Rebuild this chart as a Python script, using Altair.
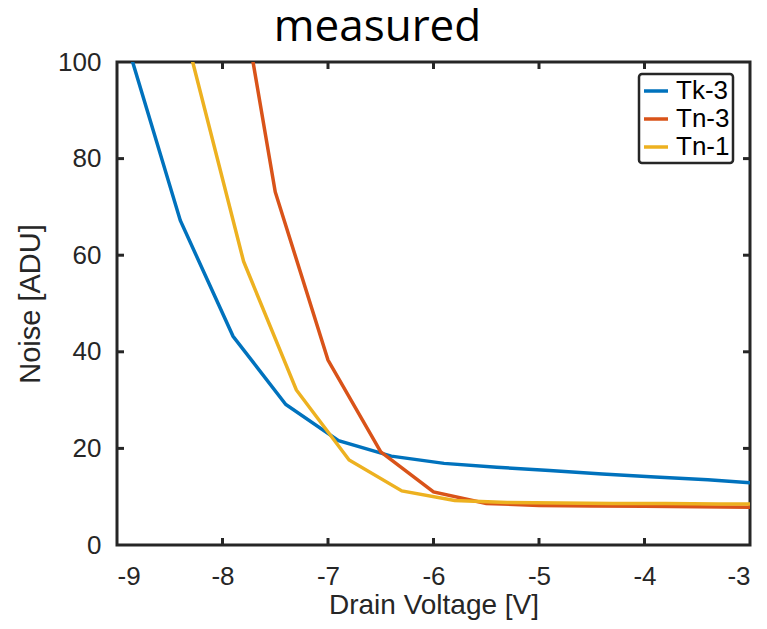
import altair as alt
import pandas as pd

# ---- data ----
series_names = ["Tk-3", "Tn-3", "Tn-1"]
series_colors = ["#0072BD", "#D95319", "#EDB120"]

tk3_v = [-8.9, -8.4, -7.9, -7.4, -6.9, -6.4, -5.9, -5.4, -4.9, -4.4, -3.9, -3.4, -3.0]
tk3_n = [103.5, 67.2, 43.2, 29.1, 21.6, 18.4, 16.9, 16.1, 15.4, 14.7, 14.1, 13.5, 12.9]

tn3_v = [-8.0, -7.5, -7.0, -6.5, -6.0, -5.5, -5.0, -4.5, -4.0, -3.5, -3.0]
tn3_n = [137.0, 73.1, 38.3, 19.3, 11.0, 8.6, 8.2, 8.1, 8.0, 7.9, 7.8]

tn1_v = [-8.3, -7.8, -7.3, -6.8, -6.3, -5.8, -5.3, -4.8, -4.3, -3.8, -3.3, -3.0]
tn1_n = [101.5, 58.7, 32.1, 17.6, 11.2, 9.2, 8.8, 8.7, 8.6, 8.6, 8.5, 8.5]

x_ticks = [-9, -8, -7, -6, -5, -4, -3]
y_ticks = [0, 20, 40, 60, 80, 100]
title_text = ["measured"]

rows = []
for name, vs, ns in [("Tk-3", tk3_v, tk3_n), ("Tn-3", tn3_v, tn3_n), ("Tn-1", tn1_v, tn1_n)]:
    for i, (v, n) in enumerate(zip(vs, ns)):
        rows.append({"series": name, "V": v, "N": n, "order": i})
df = pd.DataFrame(rows)

W, H = 633, 483
AX = "#262626"
FONT = "Liberation Sans"

xscale = alt.Scale(domain=[-9, -3], nice=False, zero=False)
yscale = alt.Scale(domain=[0, 100], nice=False, zero=False)

xaxis = alt.Axis(values=x_ticks, domain=False, ticks=False, grid=False, labelFont=FONT,
                 labelFontSize=26, labelColor=AX, labelPadding=18, labelExpr="datum.value",
                 title="Drain Voltage [V]",
                 titleFont=FONT, titleFontSize=28, titleFontWeight="normal", titleColor=AX,
                 titlePadding=2)
yaxis = alt.Axis(values=y_ticks, domain=False, ticks=False, grid=False, labelFont=FONT,
                 labelFontSize=26, labelColor=AX, labelPadding=16, labelExpr="datum.value",
                 title="Noise [ADU]",
                 titleFont=FONT, titleFontSize=29, titleFontWeight="normal", titleColor=AX,
                 titlePadding=12)

lines = alt.Chart(df).mark_line(strokeWidth=3.5, clip=True).encode(
    x=alt.X("V:Q", scale=xscale, axis=xaxis),
    y=alt.Y("N:Q", scale=yscale, axis=yaxis),
    color=alt.Color("series:N",
                    scale=alt.Scale(domain=series_names, range=series_colors),
                    legend=alt.Legend(title=None, orient="none", legendX=522, legendY=12,
                                      symbolType="stroke", symbolSize=576, symbolStrokeWidth=3.5,
                                      labelFont=FONT, labelFontSize=26, labelColor="#000",
                                      labelOffset=6, rowPadding=1, padding=3,
                                      strokeColor=AX, fillColor="white")),
    order="order:Q",
)

inner_x = pd.DataFrame({"V": x_ticks[1:-1]})
inner_y = pd.DataFrame({"N": y_ticks[1:-1]})

tick_b = alt.Chart(inner_x).mark_rule(strokeWidth=3, color=AX).encode(
    x=alt.X("V:Q", scale=xscale, axis=xaxis), y=alt.value(H), y2=alt.value(H - 7))
tick_t = alt.Chart(inner_x).mark_rule(strokeWidth=3, color=AX).encode(
    x=alt.X("V:Q", scale=xscale, axis=xaxis), y=alt.value(0), y2=alt.value(7))
tick_l = alt.Chart(inner_y).mark_rule(strokeWidth=3, color=AX).encode(
    y=alt.Y("N:Q", scale=yscale, axis=yaxis), x=alt.value(0), x2=alt.value(7))
tick_r = alt.Chart(inner_y).mark_rule(strokeWidth=3, color=AX).encode(
    y=alt.Y("N:Q", scale=yscale, axis=yaxis), x=alt.value(W), x2=alt.value(W - 7))

title = alt.Chart(pd.DataFrame({"t": title_text})).mark_text(
    font="Open Sans", fontSize=44, color="#000", align="center", baseline="alphabetic"
).encode(text="t:N", x=alt.value(260.5), y=alt.value(-21))

chart = alt.layer(lines, tick_b, tick_t, tick_l, tick_r, title).properties(
    width=W, height=H,
    autosize=alt.AutoSizeParams(type="none"),
    padding={"left": 109, "top": 54, "right": 9, "bottom": 76},
).configure(background="white").configure_view(stroke=AX, strokeWidth=3).configure_legend(
    strokeWidth=2.5, cornerRadius=3
)

chart.save("out.html", embed_options={"renderer": "svg", "actions": False})
